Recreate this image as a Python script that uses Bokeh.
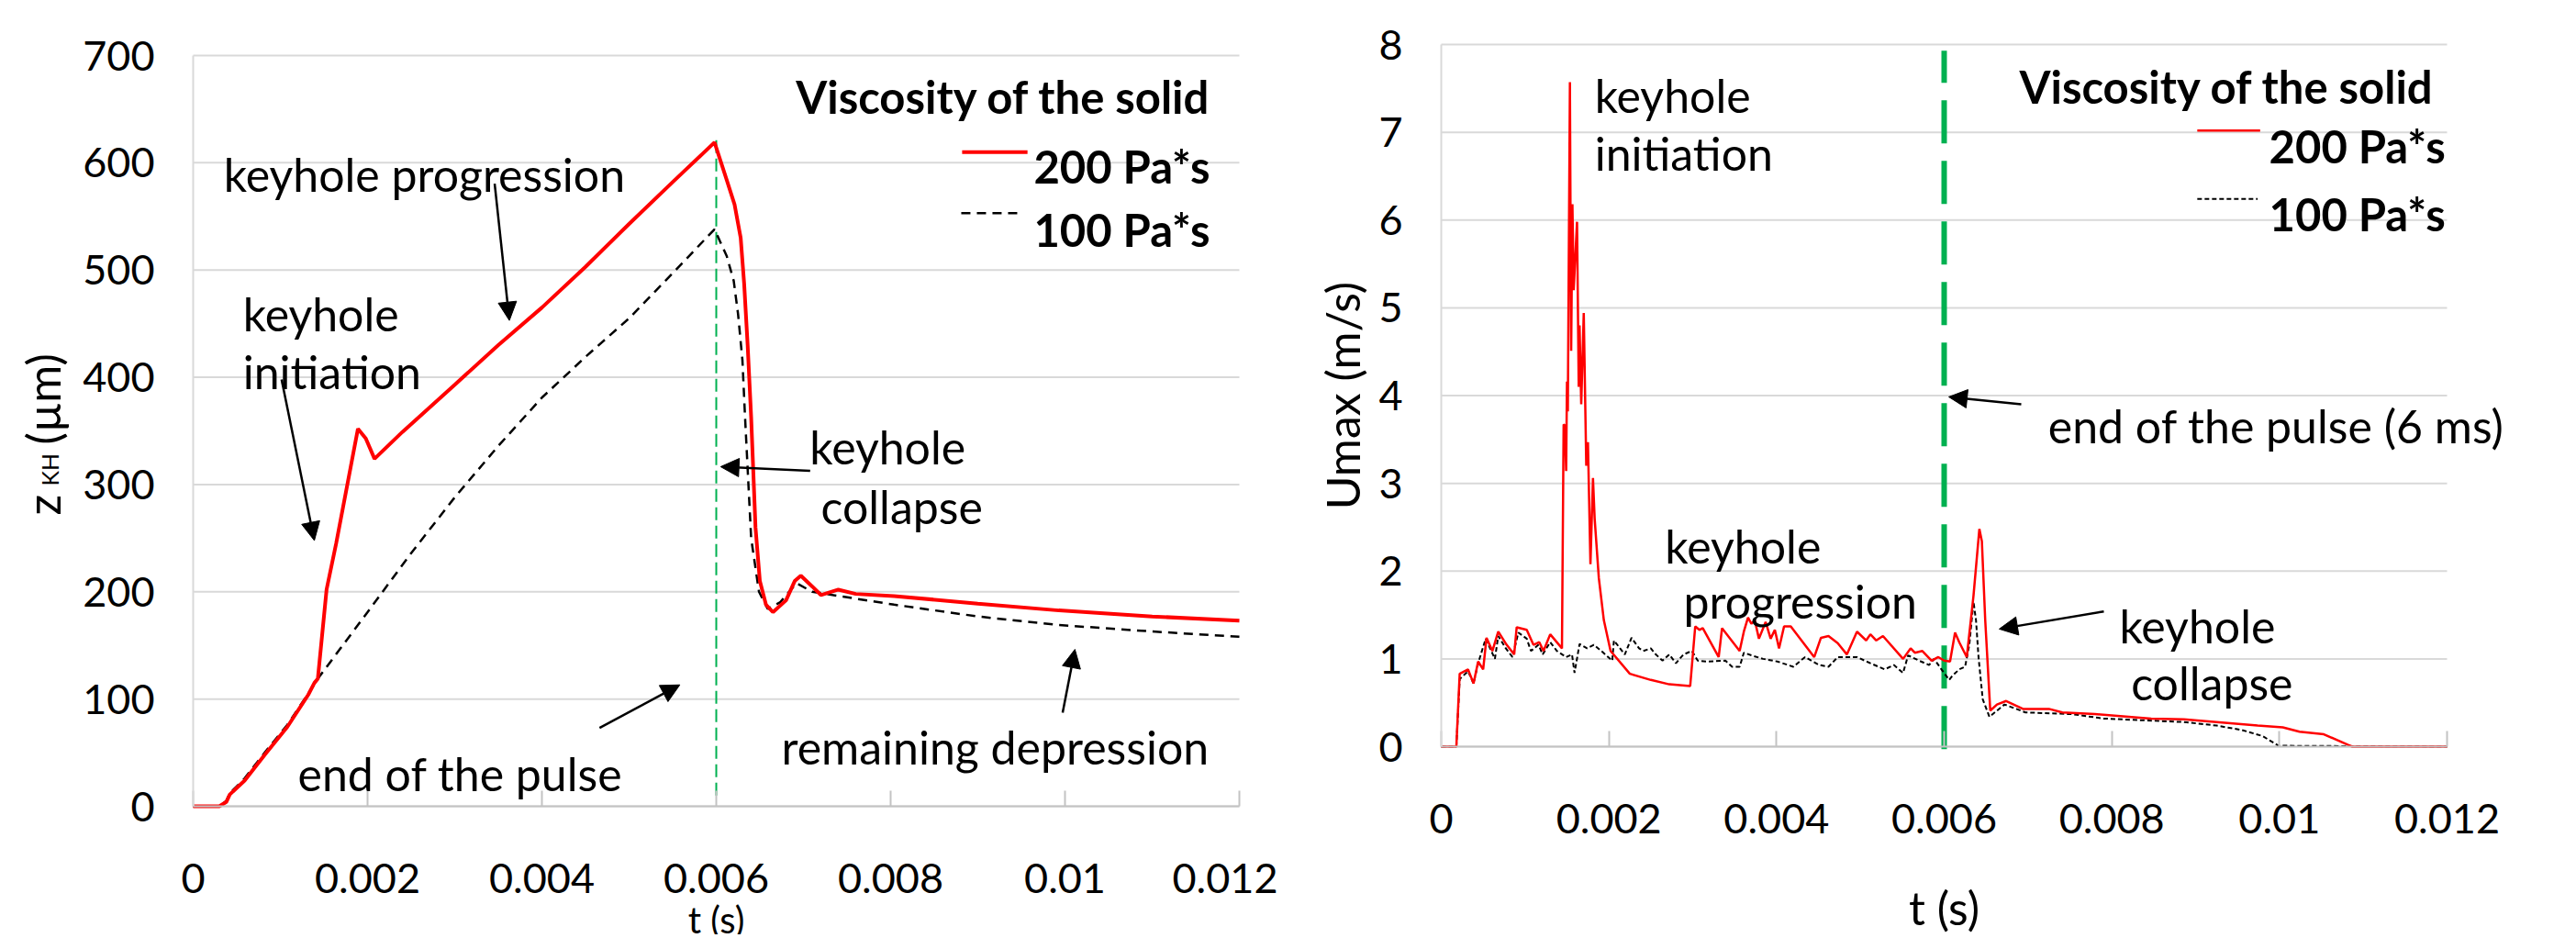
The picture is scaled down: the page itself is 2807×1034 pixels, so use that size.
import math
import numpy as np
from bokeh.plotting import figure
from bokeh.layouts import row
from bokeh.models import Range1d, FixedTicker, NumeralTickFormatter, Label, Arrow, NormalHead
from bokeh.embed import file_html
from bokeh.resources import INLINE

FONT = "Lato"
RED = "#ff0000"
GREEN = "#00b050"
GRID = "#d9d9d9"
AXIS = "#c3c3c3"

# ---------------- data: keyhole depth z_KH (um) vs t (s) ----------------
t_kh_200 = [0, 0.0003, 0.00038, 0.00042, 0.00059, 0.00082, 0.00108, 0.00132, 0.00139, 0.00143,
            0.00153, 0.00164, 0.00189, 0.00198, 0.00208, 0.0024, 0.003, 0.0035, 0.004, 0.0045,
            0.005, 0.0055, 0.00598, 0.00612, 0.00621, 0.00628, 0.00632, 0.00636, 0.0064, 0.00645,
            0.0065, 0.00657, 0.00665, 0.0068, 0.0069, 0.00697, 0.0071, 0.0072, 0.0074, 0.0076,
            0.00804, 0.009, 0.00993, 0.011, 0.012]
z_kh_200 = [0, 0, 4, 11, 24, 48, 74, 104, 115, 119,
            202, 245, 352, 343, 324, 349, 393, 430, 465, 503,
            543, 582, 619, 584, 561, 530, 487, 430, 363, 260,
            210, 188, 181, 192, 210, 215, 205, 197, 202, 198,
            196, 189, 182.6, 177, 173]

t_kh_100 = [0, 0.0003, 0.00038, 0.00042, 0.00059, 0.00082, 0.00108, 0.00132, 0.00143, 0.002,
            0.0025, 0.003, 0.0035, 0.004, 0.0045, 0.005, 0.0055, 0.00598, 0.00612, 0.0062,
            0.00625, 0.0063, 0.00633, 0.0064, 0.00649, 0.00659, 0.00673, 0.00692, 0.0071, 0.00757,
            0.00804, 0.009, 0.00993, 0.011, 0.012]
z_kh_100 = [0, 0, 5, 12, 26, 50, 76, 105, 119, 181,
            236, 288, 336, 381, 419, 455, 497, 538, 513, 490,
            459, 416, 363, 250, 200, 184, 190, 208, 200, 194,
            188, 177, 169, 163, 158]

# ---------------- data: Umax (m/s) vs t (ms) ----------------
t_u_200_ms = [0, 0.18, 0.22, 0.32, 0.385, 0.44, 0.5, 0.54, 0.61, 0.68,
              0.78, 0.87, 0.9, 1.02, 1.1, 1.17, 1.22, 1.3, 1.44, 1.46,
              1.475, 1.49, 1.5, 1.51, 1.535, 1.55, 1.565, 1.58, 1.62, 1.64,
              1.65, 1.67, 1.70, 1.73, 1.75, 1.78, 1.81, 1.83, 1.88, 1.94,
              2.02, 2.25, 2.5, 2.72, 2.97, 3.03, 3.08, 3.12, 3.31, 3.35,
              3.56, 3.61, 3.66, 3.7, 3.74, 3.79, 3.87, 3.93, 3.98, 4.03,
              4.09, 4.17, 4.45, 4.53, 4.62, 4.73, 4.84, 4.96, 5.07, 5.12,
              5.19, 5.27, 5.51, 5.6, 5.65, 5.74, 5.85, 5.93, 6.0, 6.07,
              6.13, 6.18, 6.27, 6.35, 6.42, 6.45, 6.49, 6.55, 6.63, 6.74,
              6.94, 7.25, 7.41, 7.8, 8.47, 8.86, 9.25, 9.74, 10.04, 10.24,
              10.53, 10.82, 10.87, 12.0]
u_200 = [0, 0, 0.83, 0.88, 0.72, 0.97, 0.88, 1.24, 1.09, 1.31,
         1.16, 1.05, 1.36, 1.33, 1.16, 1.19, 1.09, 1.28, 1.12, 3.67,
         3.66, 3.14, 4.16, 3.82, 7.57, 4.51, 6.18, 5.2, 5.98, 4.1,
         4.8, 3.9, 4.94, 3.2, 3.47, 2.08, 3.06, 2.6, 1.92, 1.44,
         1.09, 0.83, 0.76, 0.71, 0.69, 1.37, 1.33, 1.35, 1.02, 1.35,
         1.09, 1.31, 1.47, 1.4, 1.44, 1.23, 1.42, 1.23, 1.33, 1.12,
         1.37, 1.37, 1.02, 1.24, 1.26, 1.18, 1.05, 1.31, 1.21, 1.28,
         1.21, 1.26, 1.0, 1.12, 1.07, 1.09, 0.98, 1.02, 0.98, 0.97,
         1.30, 1.19, 1.02, 1.72, 2.48, 2.34, 1.44, 0.41, 0.48, 0.52,
         0.43, 0.43, 0.39, 0.37, 0.32, 0.31, 0.28, 0.24, 0.22, 0.17,
         0.14, 0.02, 0, 0]

t_u_100_ms = [0, 0.18, 0.22, 0.32, 0.385, 0.44, 0.53, 0.64, 0.68, 0.77,
              0.85, 0.92, 1.02, 1.07, 1.16, 1.21, 1.3, 1.38, 1.49, 1.56,
              1.59, 1.65, 1.74, 1.82, 1.91, 2.04, 2.06, 2.19, 2.27, 2.36,
              2.41, 2.5, 2.56, 2.64, 2.72, 2.8, 2.89, 2.99, 3.06, 3.17,
              3.39, 3.47, 3.56, 3.61, 3.7, 3.84, 4.01, 4.2, 4.34, 4.51,
              4.62, 4.73, 4.96, 5.12, 5.29, 5.4, 5.51, 5.57, 5.7, 5.82,
              5.88, 5.96, 6.06, 6.1, 6.18, 6.25, 6.3, 6.35, 6.38, 6.41,
              6.46, 6.54, 6.63, 6.72, 6.86, 6.97, 7.53, 7.9, 8.86, 9.25,
              9.55, 9.8, 9.99, 12.0]
u_100 = [0, 0, 0.77, 0.86, 0.72, 0.95, 1.23, 1.0, 1.26, 1.12,
         1.02, 1.3, 1.23, 1.09, 1.16, 1.05, 1.19, 1.09, 1.02, 1.05,
         0.84, 1.17, 1.12, 1.16, 1.09, 0.98, 1.21, 1.05, 1.24, 1.12,
         1.09, 1.12, 1.05, 0.98, 1.05, 0.95, 1.05, 1.09, 0.98, 0.97,
         0.98, 0.91, 0.91, 1.07, 1.04, 1.0, 0.97, 0.91, 1.02, 0.93,
         0.91, 1.02, 1.02, 0.95, 0.88, 0.93, 0.84, 1.04, 0.98, 0.93,
         1.0, 0.89, 0.76, 0.81, 0.88, 0.91, 1.16, 1.65, 1.44, 1.02,
         0.54, 0.34, 0.41, 0.48, 0.43, 0.39, 0.37, 0.32, 0.28, 0.24,
         0.19, 0.12, 0.01, 0]

# end of the laser pulse
pulse_end_t = 0.006
pulse_line_z = [10, 625]
pulse_line_u = [-0.03, 7.93]

x_ticks = [0, 0.002, 0.004, 0.006, 0.008, 0.01, 0.012]
z_ticks = [0, 100, 200, 300, 400, 500, 600, 700]
u_ticks = [0, 1, 2, 3, 4, 5, 6, 7, 8]
series_names = ["200 Pa*s", "100 Pa*s"]
legend_title = "Viscosity of the solid"
x_title = "t (s)"

# ---------------- layout geometry (frame pixels) ----------------
H = 1018


def base_fig(width, x_px, y_px, x_dom, y_dom, yticks, xtitle_size, xtitle_standoff):
    kx = (x_px[1] - x_px[0]) / (x_dom[1] - x_dom[0])
    ky = (y_px[0] - y_px[1]) / (y_dom[1] - y_dom[0])
    xr = Range1d(x_dom[0] - x_px[0] / kx, x_dom[1] + (width - x_px[1]) / kx)
    yr = Range1d(y_dom[0] - (H - y_px[0]) / ky, y_dom[1] + y_px[1] / ky)
    p = figure(frame_width=width, frame_height=H, x_range=xr, y_range=yr,
               output_backend="svg", toolbar_location=None,
               min_border_left=0, min_border_right=0, min_border_top=0, min_border_bottom=0)
    p.title.visible = False
    p.outline_line_color = None
    p.background_fill_color = "white"
    p.border_fill_color = "white"
    p.xgrid.visible = False
    p.ygrid.visible = False
    n = len(yticks)
    p.segment(x0=[x_dom[0]] * n, x1=[x_dom[1]] * n, y0=yticks, y1=yticks,
              line_color=GRID, line_width=2, level="underlay")

    xa = p.xaxis[0]
    xa.fixed_location = y_dom[0]
    xa.bounds = x_dom
    xa.ticker = FixedTicker(ticks=x_ticks)
    xa.formatter = NumeralTickFormatter(format="0.[000]")
    xa.axis_line_color = AXIS
    xa.axis_line_width = 2
    xa.major_tick_in = 17
    xa.major_tick_out = 0
    xa.major_tick_line_color = AXIS
    xa.major_tick_line_width = 2
    xa.minor_tick_line_color = None
    xa.major_label_text_font = FONT
    xa.major_label_text_font_size = "45px"
    xa.major_label_text_color = "black"
    xa.major_label_standoff = 62
    xa.axis_label = x_title
    xa.axis_label_text_font = FONT
    xa.axis_label_text_font_size = xtitle_size
    xa.axis_label_text_font_style = "normal"
    xa.axis_label_text_color = "black"
    xa.axis_label_standoff = xtitle_standoff

    ya = p.yaxis[0]
    ya.fixed_location = x_dom[0]
    ya.bounds = y_dom
    ya.ticker = FixedTicker(ticks=yticks)
    ya.axis_line_color = GRID
    ya.axis_line_width = 2
    ya.major_tick_in = 0
    ya.major_tick_out = 0
    ya.major_tick_line_color = None
    ya.minor_tick_line_color = None
    ya.major_label_text_font = FONT
    ya.major_label_text_font_size = "45px"
    ya.major_label_text_color = "black"
    ya.major_label_standoff = 42
    return p


def txt(p, x, y, s, size="50px", bold=False, align="left", angle=0.0):
    p.add_layout(Label(x=x, y=y, text=s, text_font=FONT, text_font_size=size,
                       text_font_style="bold" if bold else "normal",
                       text_align=align, text_baseline="alphabetic", text_color="black",
                       angle=angle, angle_units="rad"))


def arrow(p, x0, y0, x1, y1):
    p.add_layout(Arrow(end=NormalHead(size=20, fill_color="black", line_color="black", line_width=1),
                       x_start=x0, y_start=y0, x_end=x1, y_end=y1,
                       line_color="black", line_width=2.5))


# ======================= left chart =======================
p1 = base_fig(1392, (210, 1350), (878, 60), (0, 0.012), (0, 700), z_ticks, "40px", 2)
p1.line([pulse_end_t, pulse_end_t], pulse_line_z, line_color=GREEN, line_width=2, line_dash="14 6")
p1.line(t_kh_100, z_kh_100, line_color="black", line_width=2.5, line_dash="10 7")
p1.line(t_kh_200, z_kh_200, line_color=RED, line_width=4)

txt(p1, 0.011674, 661.7, legend_title, size="49px", bold=True, align="right")
p1.line([0.00882, 0.00957], [610, 610], line_color=RED, line_width=4)
txt(p1, 0.011663, 597.3, series_names[0], size="49px", bold=True, align="right")
p1.line([0.00881, 0.00949], [553, 553], line_color="black", line_width=2.5, line_dash="10 7")
txt(p1, 0.011663, 538, series_names[1], size="49px", bold=True, align="right")

txt(p1, 0.00035, 589, "keyhole progression")
arrow(p1, 0.003458, 580.5, 0.003627, 453)
txt(p1, 0.00057, 459.5, "keyhole")
txt(p1, 0.00057, 405.6, "initiation")
arrow(p1, 0.001014, 398, 0.00139, 247.8)
txt(p1, 0.00707, 335.4, "keyhole")
txt(p1, 0.0072, 279, "collapse")
arrow(p1, 0.007077, 312.7, 0.00605, 316.6)
txt(p1, 0.0012, 30.8, "end of the pulse")
arrow(p1, 0.004661, 73, 0.005582, 113.2)
txt(p1, 0.006747, 55.6, "remaining depression")
arrow(p1, 0.009973, 87.3, 0.010114, 146.3)

# y title with subscript: z_KH (µm)
txt(p1, -0.001726, 271.3, "z", angle=math.pi / 2)
txt(p1, -0.001652, 298.7, "KH", size="25px", angle=math.pi / 2)
txt(p1, -0.001726, 337.2, "(µm)", angle=math.pi / 2)

# ======================= right chart =======================
p2 = base_fig(1399, (178, 1274), (813, 48), (0, 0.012), (0, 8), u_ticks, "50px", 48)
t_u_200 = np.array(t_u_200_ms) / 1000.0
t_u_100 = np.array(t_u_100_ms) / 1000.0
p2.line([pulse_end_t, pulse_end_t], pulse_line_u, line_color=GREEN, line_width=6, line_dash="47 19")
p2.line(t_u_100, u_100, line_color="black", line_width=2, line_dash="5 3")
p2.line(t_u_200, u_200, line_color=RED, line_width=2.5)

txt(p2, 0.01185, 7.52, legend_title, size="49px", bold=True, align="right")
p2.line([0.00902, 0.00977], [7.02, 7.02], line_color=RED, line_width=2.5)
txt(p2, 0.01198, 6.84, series_names[0], size="49px", bold=True, align="right")
p2.line([0.00902, 0.00974], [6.24, 6.24], line_color="black", line_width=2, line_dash="5 3")
txt(p2, 0.01198, 6.07, series_names[1], size="49px", bold=True, align="right")

txt(p2, 0.00183, 7.42, "keyhole")
txt(p2, 0.00183, 6.76, "initiation")
txt(p2, 0.00267, 2.28, "keyhole")
txt(p2, 0.00289, 1.66, "progression")
txt(p2, 0.00724, 3.65, "end of the pulse (6 ms)")
arrow(p2, 0.00692, 3.90, 0.006055, 3.985)
txt(p2, 0.00809, 1.38, "keyhole")
txt(p2, 0.00823, 0.73, "collapse")
arrow(p2, 0.007905, 1.54, 0.006657, 1.34)

txt(p2, -0.001182, 4.0, "Umax (m/s)", align="center", angle=math.pi / 2)

layout = row(p1, p2, spacing=0)
open("out.html", "w").write(file_html(layout, INLINE))
